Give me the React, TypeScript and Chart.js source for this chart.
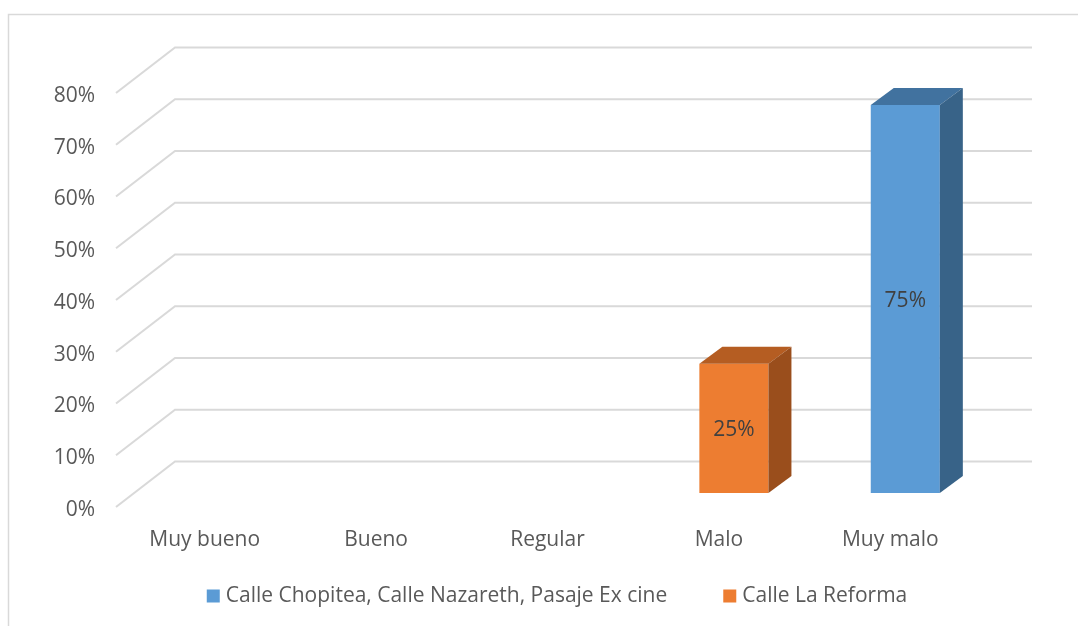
import React, { useEffect, useRef } from 'react';
import { Chart, registerables } from 'chart.js';

Chart.register(...registerables);

// ---- data ----
const categories = ['Muy bueno', 'Bueno', 'Regular', 'Malo', 'Muy malo'];
const seriesNames = ['Calle Chopitea, Calle Nazareth, Pasaje Ex cine', 'Calle La Reforma'];
const chopiteaValues = [0, 0, 0, 0, 0.75];
const reformaValues = [0, 0, 0, 0.25, 0];
const yMin = 0;
const yMax = 0.8;
const yStep = 0.1;

// ---- styles ----
const FONT = "'Open Sans', sans-serif";
const FONT_SIZE = 21;
const TEXT_COLOR = '#595959';
const LABEL_COLOR = '#404040';
const GRID_COLOR = '#D9D9D9';
const seriesColors = [
  { front: '#5B9BD5', top: '#41729F', side: '#386388' },
  { front: '#ED7D31', top: '#B55D22', side: '#9A4E1C' },
];
const DEPTH_X = 59;
const DEPTH_Y = -45.5;
const BAR_OFF_X = 18;
const BAR_OFF_Y = -14;
const BAR_DEPTH_X = 23;
const BAR_DEPTH_Y = -17;
const LEGEND_CENTER_X = 557;
const LEGEND_Y = 596;
const LEGEND_BOX = 13;
const LEGEND_TEXT_GAP = 6;
const LEGEND_ITEM_GAP = 56;

const threeD = {
  id: 'threeD',
  beforeDraw(chart: any) {
    const ctx = chart.ctx;
    ctx.save();
    ctx.fillStyle = '#ffffff';
    ctx.fillRect(0, 0, chart.width, chart.height);
    ctx.strokeStyle = GRID_COLOR;
    ctx.lineWidth = 1.5;
    ctx.beginPath();
    ctx.moveTo(8.5, chart.height);
    ctx.lineTo(8.5, 14.5);
    ctx.lineTo(chart.width, 14.5);
    ctx.stroke();
    ctx.restore();
  },
  beforeDatasetsDraw(chart: any) {
    const { ctx, chartArea } = chart;
    const y = chart.scales.y;
    ctx.save();
    ctx.strokeStyle = GRID_COLOR;
    ctx.lineWidth = 2;
    y.ticks.forEach((t: any) => {
      const py = y.getPixelForValue(t.value);
      ctx.beginPath();
      ctx.moveTo(chartArea.left, py);
      ctx.lineTo(chartArea.left + DEPTH_X, py + DEPTH_Y);
      ctx.lineTo(chartArea.right + DEPTH_X, py + DEPTH_Y);
      ctx.stroke();
    });
    ctx.restore();
    ctx.save();
    ctx.translate(BAR_OFF_X, BAR_OFF_Y);
  },
  afterDatasetsDraw(chart: any) {
    const ctx = chart.ctx;
    ctx.restore();
    chart.data.datasets.forEach((ds: any, i: number) => {
      const meta = chart.getDatasetMeta(i);
      const col = seriesColors[i];
      meta.data.forEach((bar: any, j: number) => {
        const v = ds.data[j];
        if (!v) return;
        const p = bar.getProps(['x', 'y', 'base', 'width'], true);
        const left = p.x - p.width / 2 + BAR_OFF_X;
        const right = p.x + p.width / 2 + BAR_OFF_X;
        const top = p.y + BAR_OFF_Y;
        const bottom = p.base + BAR_OFF_Y;
        ctx.save();
        ctx.fillStyle = col.top;
        ctx.beginPath();
        ctx.moveTo(left, top);
        ctx.lineTo(right, top);
        ctx.lineTo(right + BAR_DEPTH_X, top + BAR_DEPTH_Y);
        ctx.lineTo(left + BAR_DEPTH_X, top + BAR_DEPTH_Y);
        ctx.closePath();
        ctx.fill();
        ctx.fillStyle = col.side;
        ctx.beginPath();
        ctx.moveTo(right, top);
        ctx.lineTo(right + BAR_DEPTH_X, top + BAR_DEPTH_Y);
        ctx.lineTo(right + BAR_DEPTH_X, bottom + BAR_DEPTH_Y);
        ctx.lineTo(right, bottom);
        ctx.closePath();
        ctx.fill();
        ctx.fillStyle = LABEL_COLOR;
        ctx.font = `${FONT_SIZE}px ${FONT}`;
        ctx.textAlign = 'center';
        ctx.textBaseline = 'middle';
        ctx.fillText(Math.round(v * 100) + '%', p.x + BAR_OFF_X, (top + bottom) / 2 + 2);
        ctx.restore();
      });
    });
  },
  afterDraw(chart: any) {
    // legend
    const ctx = chart.ctx;
    ctx.save();
    ctx.font = `${FONT_SIZE}px ${FONT}`;
    const items = chart.data.datasets.map((ds: any) => ({
      text: ds.label as string,
      color: ds.backgroundColor as string,
      w: ctx.measureText(ds.label).width,
    }));
    const total = items.reduce((a: number, it: any) => a + LEGEND_BOX + LEGEND_TEXT_GAP + it.w, 0) + LEGEND_ITEM_GAP * (items.length - 1);
    let x = LEGEND_CENTER_X - total / 2;
    ctx.textAlign = 'left';
    ctx.textBaseline = 'middle';
    items.forEach((it: any) => {
      ctx.fillStyle = it.color;
      ctx.fillRect(x, LEGEND_Y - LEGEND_BOX / 2, LEGEND_BOX, LEGEND_BOX);
      ctx.fillStyle = TEXT_COLOR;
      ctx.fillText(it.text, x + LEGEND_BOX + LEGEND_TEXT_GAP, LEGEND_Y);
      x += LEGEND_BOX + LEGEND_TEXT_GAP + it.w + LEGEND_ITEM_GAP;
    });
    ctx.restore();
  },
};

export default function App() {
  const ref = useRef<HTMLCanvasElement>(null);
  useEffect(() => {
    if (!ref.current) return;
    const chart = new Chart(ref.current, {
      type: 'bar',
      data: {
        labels: categories,
        datasets: [
          {
            label: seriesNames[0],
            data: chopiteaValues,
            backgroundColor: seriesColors[0].front,
            borderWidth: 0,
            categoryPercentage: 1,
            barPercentage: 0.403,
            clip: false as any,
          },
          {
            label: seriesNames[1],
            data: reformaValues,
            backgroundColor: seriesColors[1].front,
            borderWidth: 0,
            categoryPercentage: 1,
            barPercentage: 0.403,
            clip: false as any,
          },
        ],
      },
      options: {
        responsive: false,
        animation: false,
        devicePixelRatio: 1,
        layout: { padding: { left: 0, right: 105, top: 93, bottom: 59 } },
        scales: {
          x: {
            stacked: true,
            grid: { display: false },
            border: { display: false },
            ticks: { color: TEXT_COLOR, font: { family: FONT, size: FONT_SIZE }, padding: 12, labelOffset: 3 },
            afterFit: (s: any) => { s.height = 60; },
          },
          y: {
            stacked: true,
            min: yMin,
            max: yMax,
            grid: { display: false },
            border: { display: false },
            ticks: {
              stepSize: yStep,
              color: TEXT_COLOR,
              font: { family: FONT, size: FONT_SIZE },
              padding: 13,
              labelOffset: 3,
              callback: (v: any) => Math.round(Number(v) * 100) + '%',
            },
            afterFit: (s: any) => { s.width = 116; },
          },
        },
        plugins: {
          legend: { display: false },
          tooltip: { enabled: false },
        },
      } as any,
      plugins: [threeD],
    });
    return () => chart.destroy();
  }, []);
  return (
    <div style={{ position: 'absolute', left: 0, top: 0, width: 1078, height: 626, overflow: 'hidden' }}>
      <canvas ref={ref} width={1078} height={626} style={{ display: 'block' }} />
    </div>
  );
}
